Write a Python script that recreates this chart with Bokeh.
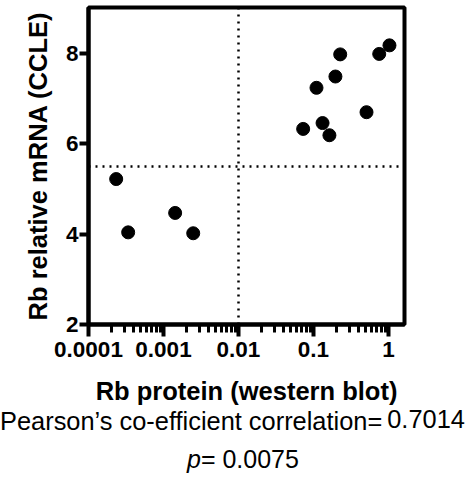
from bokeh.plotting import figure
from bokeh.layouts import column
from bokeh.models import Range1d, FixedTicker, Span, Div
from bokeh.embed import file_html
from bokeh.resources import INLINE

# ---- data ----
rb_protein = [0.000234, 0.000338, 0.00143, 0.00249, 0.0728, 0.1096, 0.132,
              0.163, 0.196, 0.227, 0.509, 0.752, 1.03]
rb_mrna = [5.22, 4.04, 4.47, 4.02, 6.33, 7.24, 6.46, 6.19, 7.49, 7.98,
           6.70, 7.99, 8.18]

x_ticks = [0.0001, 0.001, 0.01, 0.1, 1]
x_tick_labels = ["0.0001", "0.001", "0.01", "0.1", "1"]
y_ticks = [2, 4, 6, 8]
x_threshold = 0.01
y_threshold = 5.5

x_title = "Rb protein (western blot)"
y_title = "Rb relative mRNA (CCLE)"
stat_label = "Pearson\u2019s co-efficient correlation="
stat_value = "0.7014"
p_symbol = "p"
p_value_text = "= 0.0075"

x_minor = [m * d for d in x_ticks[:-1] for m in range(2, 10)]

FONT = "Liberation Sans"

p = figure(width=469, height=410, x_axis_type="log",
           x_range=Range1d(1e-4, 1.634), y_range=Range1d(2, 9.018),
           output_backend="svg", toolbar_location=None,
           min_border_left=88, min_border_right=65,
           min_border_top=7, min_border_bottom=86)

p.xgrid.visible = False
p.ygrid.visible = False
p.outline_line_color = "black"
p.outline_line_width = 4
p.outline_line_alpha = 1.0
p.background_fill_color = "white"
p.border_fill_color = "white"

# x axis
xa = p.xaxis[0]
xa.ticker = FixedTicker(ticks=x_ticks, minor_ticks=x_minor)
xa.major_label_overrides = {t: l for t, l in zip(x_ticks, x_tick_labels)}
xa.axis_line_width = 4
xa.major_tick_in = 0
xa.major_tick_out = 12
xa.minor_tick_in = 0
xa.minor_tick_out = 8
xa.major_tick_line_width = 4
xa.minor_tick_line_width = 3
xa.major_label_text_font = FONT
xa.major_label_text_font_style = "bold"
xa.major_label_text_font_size = "22.5px"
xa.major_label_text_color = "black"
xa.major_label_standoff = 5
xa.axis_label = x_title
xa.axis_label_text_font = FONT
xa.axis_label_text_font_style = "bold"
xa.axis_label_text_font_size = "25.5px"
xa.axis_label_text_color = "black"
xa.axis_label_standoff = 17

# y axis
ya = p.yaxis[0]
ya.ticker = FixedTicker(ticks=y_ticks, minor_ticks=[])
ya.axis_line_width = 4
ya.major_tick_in = 0
ya.major_tick_out = 9
ya.minor_tick_in = 0
ya.minor_tick_out = 0
ya.major_tick_line_width = 4
ya.major_label_text_font = FONT
ya.major_label_text_font_style = "bold"
ya.major_label_text_font_size = "22.5px"
ya.major_label_text_color = "black"
ya.major_label_standoff = 1
ya.axis_label = y_title
ya.axis_label_text_font = FONT
ya.axis_label_text_font_style = "bold"
ya.axis_label_text_font_size = "25.5px"
ya.axis_label_text_color = "black"
ya.axis_label_standoff = 11

# threshold lines
p.add_layout(Span(location=x_threshold, dimension="height", line_color="black",
                  line_width=2.5, line_dash="2 5"))
p.add_layout(Span(location=y_threshold, dimension="width", line_color="black",
                  line_width=2.5, line_dash="2 5"))

# points
p.scatter(rb_protein, rb_mrna, size=13, color="black")

# ---- statistics text below the chart ----
stats_html = (
    f"<div style=\"font-family:'{FONT}'; font-size:25px; color:black; "
    "line-height:38px; white-space:nowrap; position:relative; top:-8px;\">"
    "<div style=\"text-align:center; font-size:25.4px; margin-right:1px;\">"
    f"{stat_label}<span style=\"position:relative; top:-2px; margin-left:5px;\">{stat_value}</span></div>"
    "<div style=\"text-align:center; padding-left:20px;\">"
    f"<i>{p_symbol}</i>{p_value_text}</div>"
    "</div>"
)
stats = Div(text=stats_html, width=469, height=70, margin=0)

layout = column(p, stats, spacing=0)
open("out.html", "w").write(file_html(layout, INLINE))
